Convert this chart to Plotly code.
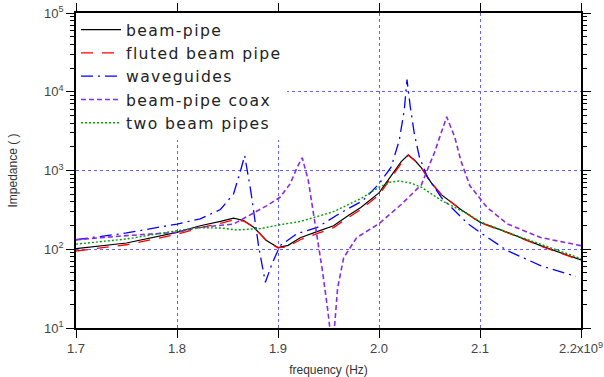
import plotly.graph_objects as go

# ---- data (frequency in units of 1e9 Hz, impedance in Ohm) ----
f_bp = [1.70, 1.75, 1.80, 1.823, 1.843, 1.856, 1.866, 1.876, 1.889, 1.900, 1.910, 1.922,
        1.940, 1.955, 1.970, 1.982, 2.000, 2.012, 2.022, 2.029, 2.036, 2.042, 2.052, 2.062,
        2.081, 2.100, 2.127, 2.160, 2.200]
beam_pipe = [102, 120, 164, 199, 226, 248, 232, 190, 128, 105, 112, 140,
             170, 199, 270, 340, 520, 860, 1300, 1585, 1320, 1080, 690, 490,
             320, 220, 164, 111, 73]
fluted = [95, 114, 155, 188, 213, 235, 228, 192, 126, 104, 108, 132,
          160, 188, 255, 320, 490, 810, 1230, 1560, 1320, 1080, 690, 490,
          320, 218, 162, 110, 72]

f_wg = [1.70, 1.75, 1.80, 1.823, 1.843, 1.856, 1.863, 1.867, 1.873, 1.878, 1.881, 1.8875,
        1.894, 1.902, 1.919, 1.939, 1.962, 1.984, 2.000, 2.012, 2.020, 2.025, 2.0277, 2.031,
        2.035, 2.040, 2.048, 2.062, 2.088, 2.100, 2.127, 2.160, 2.195]
waveguides = [132, 161, 209, 243, 320, 505, 1000, 1550, 556, 211, 105, 38,
              65, 111, 158, 190, 290, 415, 676, 1100, 2400, 5800, 14300, 6400,
              2930, 1480, 820, 450, 211, 164, 96, 62, 45]

f_cx = [1.70, 1.75, 1.80, 1.823, 1.856, 1.889, 1.902, 1.912, 1.919, 1.924, 1.930, 1.937,
        1.944, 1.949, 1.954, 1.959, 1.965, 1.978, 1.984, 2.000, 2.022, 2.042, 2.055, 2.062,
        2.067, 2.075, 2.081, 2.090, 2.107, 2.127, 2.160, 2.200]
coax = [132, 149, 164, 190, 209, 358, 457, 676, 1100, 1450, 746, 209,
        53, 18, 5, 32, 78, 141, 158, 211, 370, 660, 1700, 3200,
        4800, 2660, 1340, 640, 340, 210, 141, 111]

f_tb = [1.70, 1.75, 1.80, 1.823, 1.843, 1.859, 1.883, 1.902, 1.922, 1.955, 1.982, 2.000,
        2.012, 2.020, 2.032, 2.042, 2.062, 2.088, 2.100, 2.127, 2.160, 2.200]
two_pipes = [116, 135, 172, 188, 186, 176, 183, 205, 225, 300, 440, 613,
             715, 735, 690, 613, 415, 280, 225, 164, 116, 76]

x_ticks = [1.7, 1.8, 1.9, 2.0, 2.1, 2.2]
x_ticktext = ["1.7", "1.8", "1.9", "2.0", "2.1", "2.2x10<sup>9</sup>"]
y_ticks = [10, 100, 1000, 10000, 100000]
y_ticktext = ["10<sup>1</sup>", "10<sup>2</sup>", "10<sup>3</sup>", "10<sup>4</sup>", "10<sup>5</sup>"]
y_minor = [m * d for d in [10, 100, 1000, 10000] for m in range(2, 10)]

series = [
    ("beam-pipe", f_bp, beam_pipe, "#000000", "solid", 1.2),
    ("fluted beam pipe", f_bp, fluted, "#ff0000", "12px,9px", 1.3),
    ("waveguides", f_wg, waveguides, "#0000ff", "12px,5px,2px,5px", 1.3),
    ("beam-pipe coax", f_cx, coax, "#8a2be2", "5px,3px", 1.6),
    ("two beam pipes", f_tb, two_pipes, "#00a000", "2px,2px", 1.4),
]

fig = go.Figure()
for name, fx, fy, col, dash, w in series:
    fig.add_trace(go.Scatter(
        x=fx, y=fy, mode="lines",
        name='<span style="letter-spacing:1.4px">' + name + '</span>',
        line=dict(color=col, width=w, dash=dash)))

grid_col = "#6060ff"
fig.update_layout(
    width=604, height=377,
    margin=dict(l=76, r=23, t=13, b=49),
    paper_bgcolor="white", plot_bgcolor="white",
    font=dict(family="Liberation Sans", size=12, color="#333333"),
    showlegend=True,
    legend=dict(x=0.0, y=1.0, xanchor="left", yanchor="top",
                bgcolor="white", borderwidth=0, itemwidth=40,
                font=dict(family="DejaVu Sans", size=15.6, color="#222222"),
                tracegroupgap=0),
)
fig.update_xaxes(
    range=[1.7, 2.2], tickmode="array", tickvals=x_ticks, ticktext=x_ticktext,
    showline=True, linecolor="black", linewidth=1.5, mirror="allticks",
    ticks="outside", ticklen=8, tickcolor="black", tickwidth=1.3, automargin=False,
    showgrid=True, gridcolor=grid_col, griddash="dot", gridwidth=1,
    zeroline=False, tickfont=dict(size=13, color="#444444"),
    title=dict(text="frequency (Hz)", font=dict(size=12, color="#333333"), standoff=11),
)
fig.update_layout(yaxis=dict(
    type="log", range=[1, 5], tickmode="array", tickvals=y_ticks, ticktext=y_ticktext,
    showline=True, linecolor="black", linewidth=1.5, mirror="allticks",
    ticks="outside", ticklen=8, tickcolor="black", tickwidth=1.3, automargin=False,
    minor=dict(tickmode="array", tickvals=y_minor, ticks="outside", ticklen=4,
               tickcolor="black", tickwidth=1, showgrid=False),
    showgrid=True, gridcolor=grid_col, griddash="dot", gridwidth=1,
    zeroline=False, tickfont=dict(size=13, color="#444444"),
    title=dict(text="Impedance ( )", font=dict(size=12, color="#333333"), standoff=24),
))

fig.write_html("out.html")
